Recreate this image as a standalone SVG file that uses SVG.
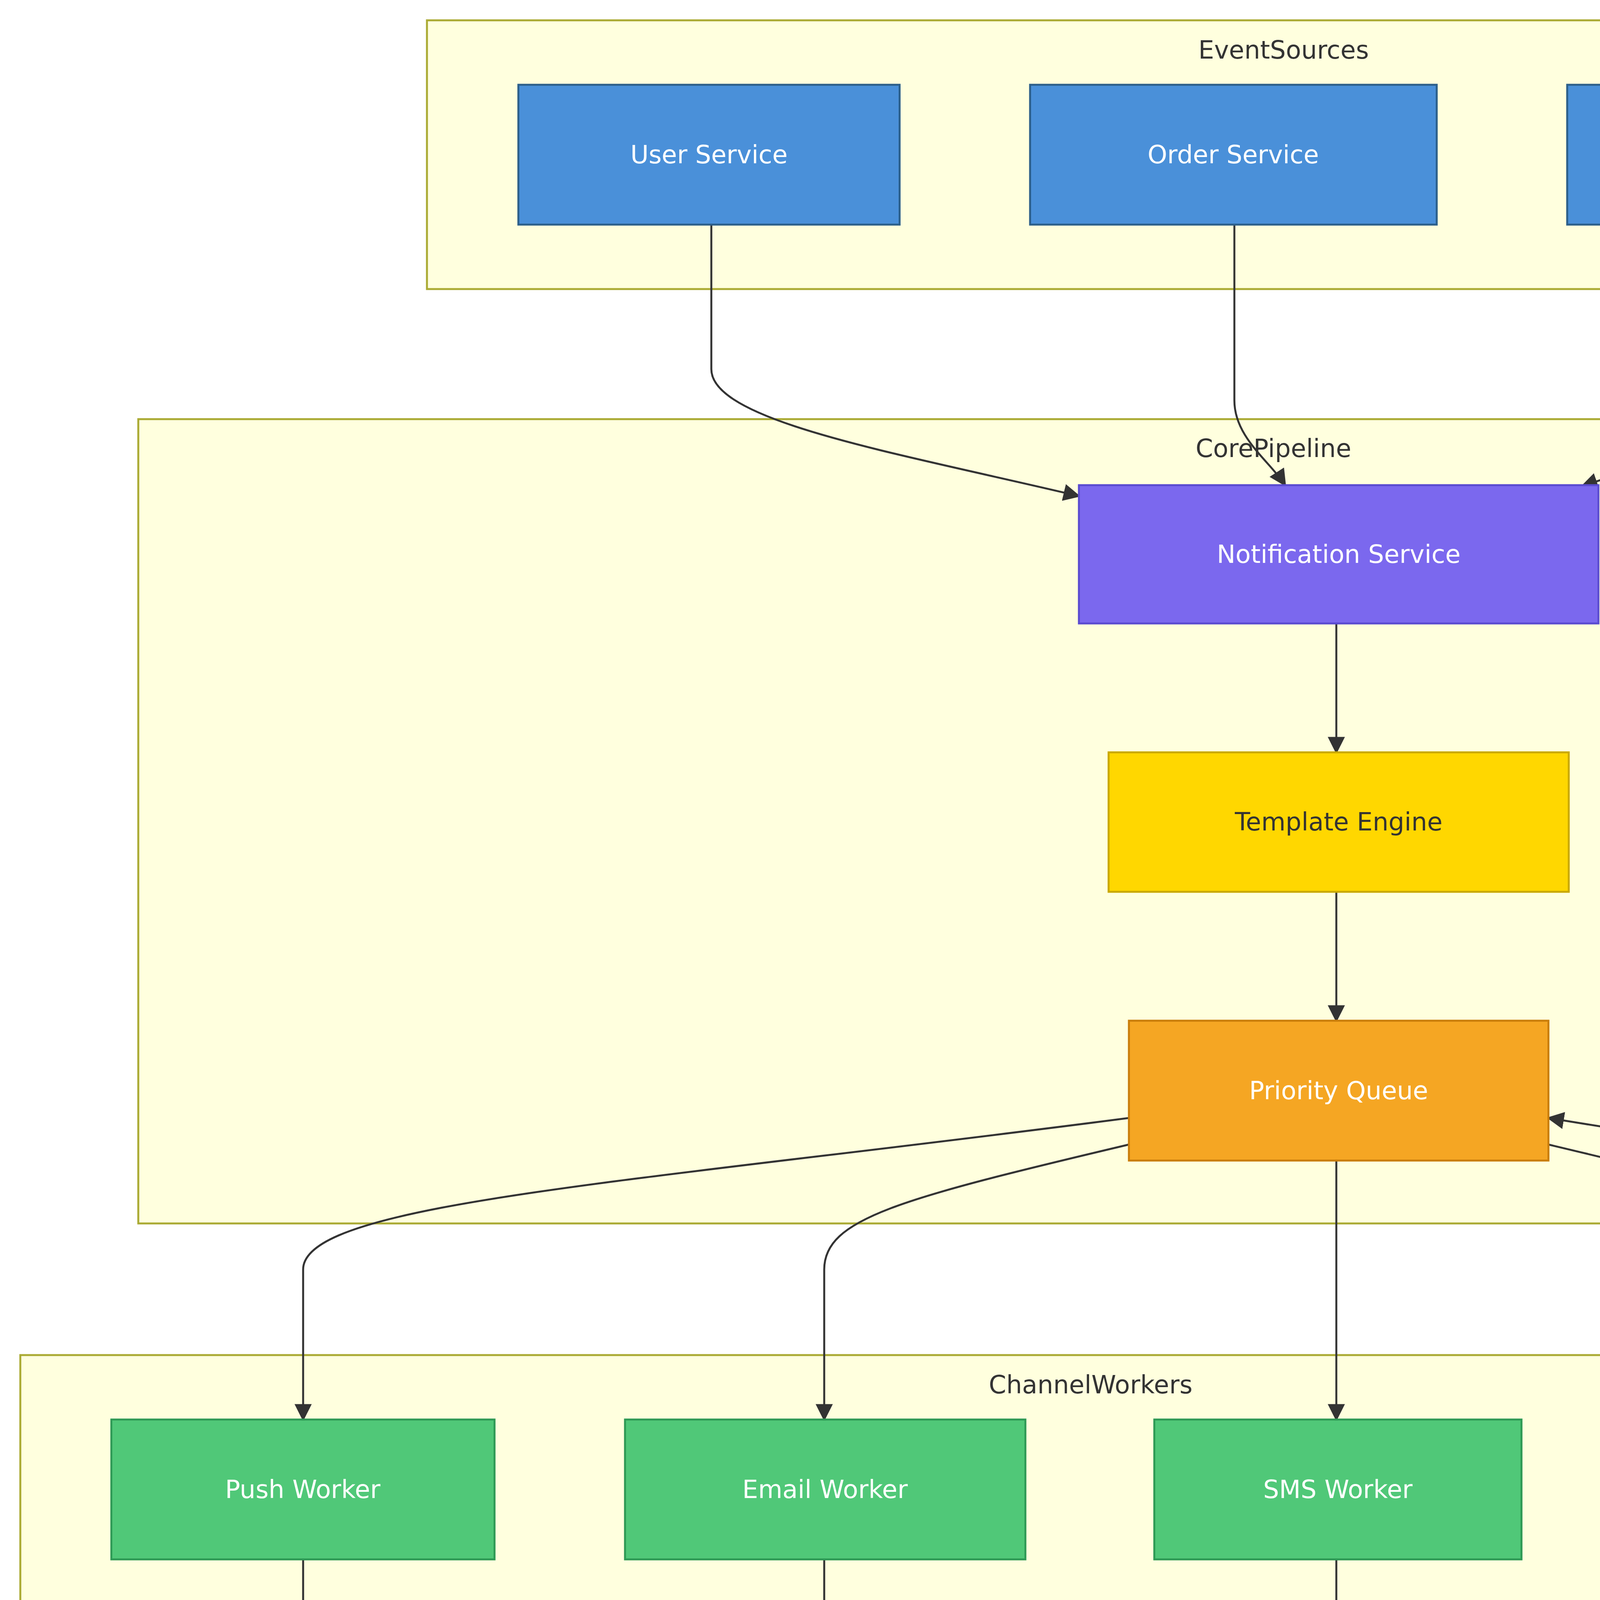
<svg xmlns="http://www.w3.org/2000/svg" width="6272" height="6288" viewBox="0 0 6272 6288">
<style>
text{font-family:"DejaVu Sans","Noto Sans",sans-serif;font-size:64px;text-anchor:middle;dominant-baseline:central}
.cl rect{fill:#ffffde;stroke:#aaaa33;stroke-width:5}
.cl text{fill:#333}
.n rect{stroke-width:5}
.n text{fill:#fff}
.e path{fill:none;stroke:#333;stroke-width:5}
.lb rect{fill:#e8e8e8}
.lb text{fill:#333}
</style>
<defs><marker id="a" markerUnits="userSpaceOnUse" markerWidth="44" markerHeight="44" viewBox="0 0 10 10" refX="9" refY="5" orient="auto"><path d="M0,0L10,5L0,10z" fill="#333"/></marker></defs>
<g class="cl" id="EventSources"><rect x="1093" y="52" width="4386" height="688"/><text x="3286" y="128">EventSources</text></g>
<g class="cl" id="CorePipeline"><rect x="354" y="1073" width="5813" height="2059"/><text x="3260" y="1148">CorePipeline</text></g>
<g class="cl" id="ChannelWorkers"><rect x="52" y="3469" width="5480" height="680"/><text x="2792" y="3545">ChannelWorkers</text></g>
<g class="cl" id="Delivery"><rect x="201" y="4647" width="5966" height="1528"/><text x="3184" y="4722">Delivery</text></g>
<g class="e" id="connectors">
<path d="M1821,575V945C1821,1080 2300,1160 2762,1270" marker-end="url(#a)"/>
<path d="M3160,575V1025C3160,1120 3250,1180 3290,1242" marker-end="url(#a)"/>
<path d="M4631,575V945C4631,1060 4300,1160 4050,1245" marker-end="url(#a)"/>
<path d="M3421,1596V1926" marker-end="url(#a)"/>
<path d="M3421,2283V2613" marker-end="url(#a)"/>
<path d="M2890,2862C1600,3030 776,3080 776,3250V3634" marker-end="url(#a)"/>
<path d="M2890,2930C2300,3070 2110,3120 2110,3250V3634" marker-end="url(#a)"/>
<path d="M3421,2971V3634" marker-end="url(#a)"/>
<path d="M3964,2930C4550,3070 4763,3120 4763,3250V3634" marker-end="url(#a)"/>
<path d="M776,3992V4460C776,4660 1500,4740 2123,4878" marker-end="url(#a)"/>
<path d="M2110,3992V4500C2110,4660 2250,4740 2392,4812" marker-end="url(#a)"/>
<path d="M3421,3992V4500C3421,4660 3200,4740 3075,4812" marker-end="url(#a)"/>
<path d="M4763,3992V4420C4763,4640 4000,4740 3288,4878" marker-end="url(#a)"/>
<path d="M2714,5170V5240C2714,5420 3000,5500 3337,5660" marker-end="url(#a)"/>
<path d="M4470,5684C5200,5500 5660,5440 5660,5000V3300C5660,3100 4800,3000 3964,2862" marker-end="url(#a)"/>
</g>
<g class="lb" id="lbl-failed"><rect x="2565" y="5355" width="290" height="112"/><text x="2710" y="5411">Failed</text></g>
<g class="lb" id="lbl-retry"><rect x="5534" y="4342" width="252" height="112"/><text x="5660" y="4398">Retry</text></g>
<g class="n" id="UserService"><rect x="1327" y="217" width="976" height="358" fill="#4A90D9" stroke="#2C5F8A"/><text x="1815" y="396">User Service</text></g>
<g class="n" id="OrderService"><rect x="2637" y="217" width="1041" height="358" fill="#4A90D9" stroke="#2C5F8A"/><text x="3157" y="396">Order Service</text></g>
<g class="n" id="MarketingService"><rect x="4012" y="217" width="1234" height="358" fill="#4A90D9" stroke="#2C5F8A"/><text x="4629" y="396">Marketing Service</text></g>
<g class="n" id="NotificationService"><rect x="2762" y="1242" width="1330" height="354" fill="#7B68EE" stroke="#5A4BD0"/><text x="3427" y="1419">Notification Service</text></g>
<g class="n" id="TemplateEngine"><rect x="2838" y="1926" width="1178" height="357" fill="#FFD700" stroke="#C9A800"/><text x="3427" y="2104" style="fill:#333">Template Engine</text></g>
<g class="n" id="PriorityQueue"><rect x="2890" y="2613" width="1074" height="358" fill="#F5A623" stroke="#C97D0A"/><text x="3427" y="2792">Priority Queue</text></g>
<g class="n" id="PushWorker"><rect x="285" y="3634" width="981" height="358" fill="#50C878" stroke="#2E9955"/><text x="775" y="3813">Push Worker</text></g>
<g class="n" id="EmailWorker"><rect x="1600" y="3634" width="1025" height="358" fill="#50C878" stroke="#2E9955"/><text x="2112" y="3813">Email Worker</text></g>
<g class="n" id="SMSWorker"><rect x="2955" y="3634" width="940" height="358" fill="#50C878" stroke="#2E9955"/><text x="3425" y="3813">SMS Worker</text></g>
<g class="n" id="InAppWorker"><rect x="4229" y="3634" width="1069" height="358" fill="#50C878" stroke="#2E9955"/><text x="4763" y="3813">In-App Worker</text></g>
<g class="n" id="DeliveryTracker"><rect x="2123" y="4812" width="1165" height="358" fill="#DC143C" stroke="#A00E2C"/><text x="2705" y="4991">Delivery Tracker</text></g>
<g class="n" id="DeadLetterQueue"><rect x="3180" y="5660" width="1290" height="358" fill="#8B4513" stroke="#5A2D0C"/><text x="3825" y="5839">Dead Letter Queue</text></g>
</svg>
